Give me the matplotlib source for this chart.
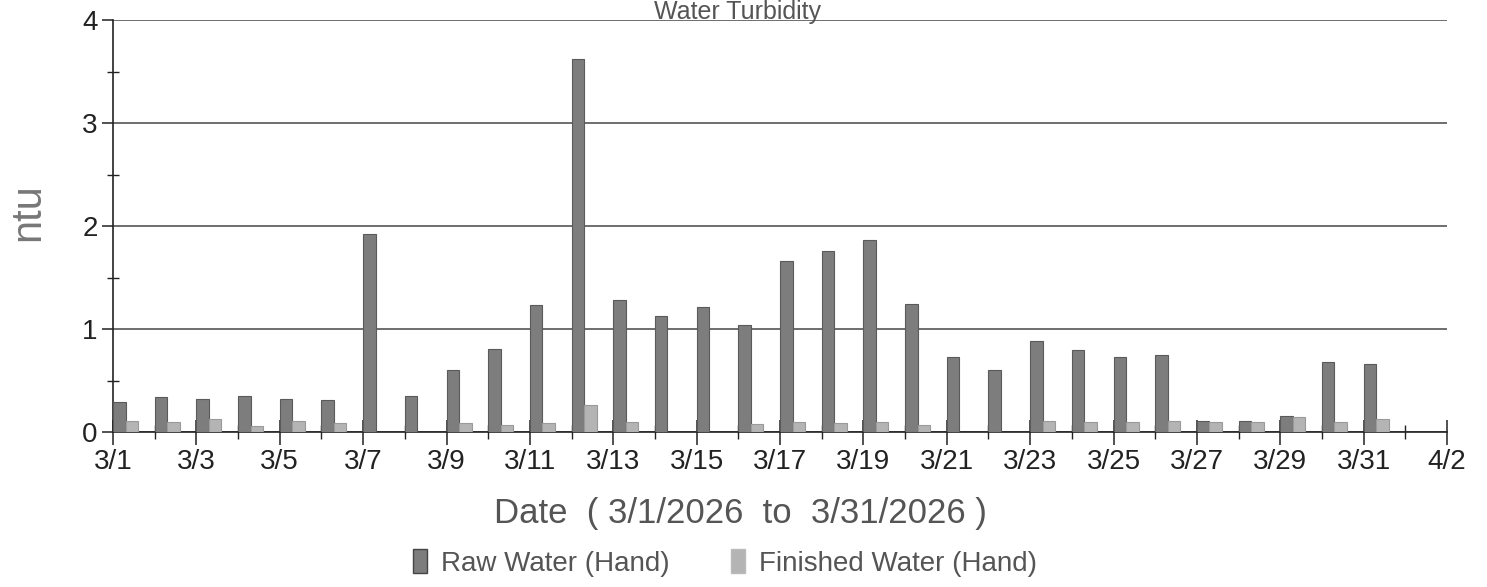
import numpy as np
import pandas as pd
import matplotlib
matplotlib.use("Agg")
import matplotlib.pyplot as plt
import matplotlib.dates as mdates
from matplotlib.patches import Patch

plt.rcParams['font.family'] = ['Liberation Sans', 'DejaVu Sans']

# daily hand readings, March 2026 (ntu); nan = no reading shown
dates = pd.date_range("2026-03-01", "2026-03-31", freq="D")
raw_water = [0.29, 0.34, 0.32, 0.35, 0.32, 0.31, 1.92, 0.35, 0.60, 0.81,
             1.23, 3.62, 1.28, 1.13, 1.21, 1.04, 1.66, 1.76, 1.86, 1.24,
             0.73, 0.60, 0.88, 0.80, 0.73, 0.75, 0.11, 0.11, 0.16, 0.68,
             0.66]
finished_water = [0.11, 0.10, 0.13, 0.06, 0.11, 0.09, np.nan, np.nan, 0.09, 0.07,
                  0.09, 0.26, 0.10, np.nan, np.nan, 0.08, 0.10, 0.09, 0.10, 0.07,
                  np.nan, np.nan, 0.11, 0.10, 0.10, 0.11, 0.10, 0.10, 0.15, 0.10,
                  0.13]
series_labels = ["Raw Water (Hand)", "Finished Water (Hand)"]

raw_color = "#7d7d7d"
fin_color = "#b4b4b4"
bar_w = 0.3

fig = plt.figure(figsize=(14.87, 5.87), dpi=100)
ax = fig.add_axes([113 / 1487, 155 / 587, 1334 / 1487, 412 / 587])

ax.bar(dates, raw_water, width=bar_w, align="edge", color=raw_color,
       edgecolor="#5a5a5a", linewidth=0.8, zorder=3)
ax.bar(dates + pd.Timedelta(hours=24 * bar_w), finished_water, width=bar_w,
       align="edge", color=fin_color, edgecolor="#9a9a9a", linewidth=0.8, zorder=3)

start, end = pd.Timestamp("2026-03-01"), pd.Timestamp("2026-04-02")
ax.set_xlim(start, end)
ax.set_ylim(0, 4)

major_days = pd.date_range(start, end, freq="2D")
minor_days = pd.date_range(start, end, freq="D")
ax.set_xticks(mdates.date2num(major_days))
ax.set_xticks(mdates.date2num(minor_days), minor=True)
ax.set_xticklabels([f"{d.month}/{d.day}" for d in major_days])
ax.set_yticks([0, 1, 2, 3, 4])
ax.set_yticks(np.arange(0.5, 4, 1), minor=True)

ax.tick_params(axis="x", which="major", direction="inout", length=18, width=1.1,
               labelsize=20, colors="#222", pad=3)
ax.tick_params(axis="x", which="minor", direction="inout", length=10, width=1.0,
               colors="#222")
ax.tick_params(axis="y", which="major", direction="out", length=8, width=1.1,
               labelsize=20, colors="#222", pad=3)
ax.tick_params(axis="y", which="minor", direction="inout", length=8, width=1.0,
               colors="#222")

ax.grid(axis="y", which="major", color="#555", linewidth=1.2, zorder=1)
for side in ["top", "right"]:
    ax.spines[side].set_visible(False)
for side in ["left", "bottom"]:
    ax.spines[side].set_color("#222")
    ax.spines[side].set_linewidth(1.2)

fig.text(738 / 1487, (587 - 19) / 587, "Water Turbidity", ha="center",
         va="baseline", fontsize=18, color="#555")
fig.text(28 / 1487, (587 - 212) / 587, "ntu", rotation=90, ha="center",
         va="center", fontsize=30, color="#777")
fig.text(740 / 1487, (587 - 513) / 587, "Date  ( 3/1/2026  to  3/31/2026 )",
         ha="center", va="center", fontsize=25, color="#555")

handles = [Patch(facecolor=raw_color, edgecolor="#444"),
           Patch(facecolor=fin_color, edgecolor="#bbb")]
fig.legend(handles, series_labels, loc="center", bbox_to_anchor=(725 / 1487, 24 / 587),
           ncol=2, frameon=False, fontsize=20, handlelength=0.5, handleheight=0.9,
           handletextpad=0.5, columnspacing=2.2, labelcolor="#555")

fig.savefig("out.png", dpi=100)
